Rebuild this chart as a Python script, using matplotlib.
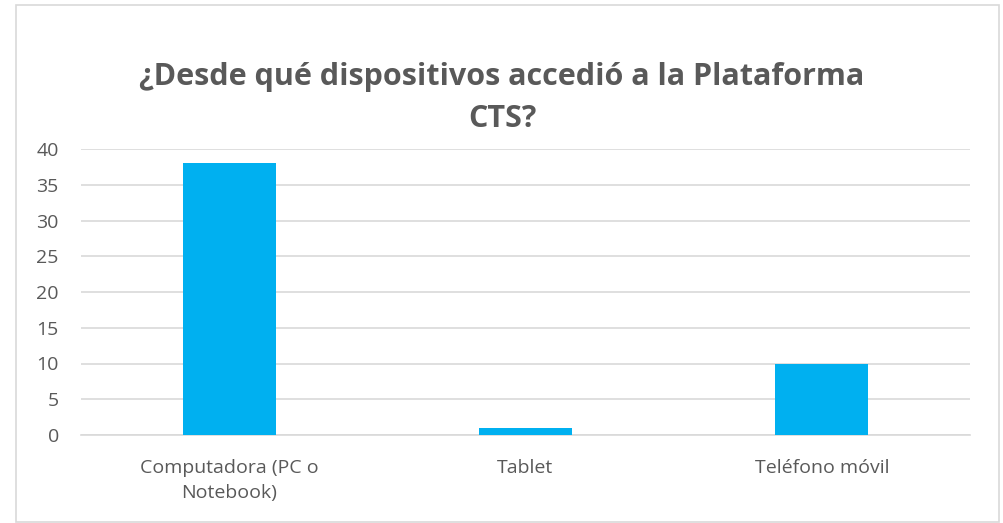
import matplotlib
matplotlib.use("Agg")
import matplotlib.pyplot as plt
from matplotlib.patches import Rectangle

categories = ["Computadora (PC o\nNotebook)", "Tablet", "Teléfono móvil"]
values = [38, 1, 10]
yticks = [0, 5, 10, 15, 20, 25, 30, 35, 40]
title = "¿Desde qué dispositivos accedió a la Plataforma\nCTS?"

plt.rcParams['font.family'] = ['Open Sans', 'DejaVu Sans']
text_color = "#595959"
grid_color = "#D9D9D9"
bar_color = "#00B0F0"

fig = plt.figure(figsize=(10.04, 5.23), dpi=100)
W, H = 1004, 523
ax = fig.add_axes([81 / W, 1 - 435 / H, (970 - 81) / W, (435 - 149) / H])

x = list(range(len(categories)))
ax.bar(x, values, width=0.314, color=bar_color, zorder=3)
ax.set_xlim(-0.5, len(categories) - 0.5)
ax.set_ylim(0, 40)
ax.set_yticks(yticks)
ax.set_xticks(x)
ax.set_xticklabels(categories, fontsize=14, color=text_color, linespacing=1.5)
ax.tick_params(axis='y', labelsize=14, colors=text_color, length=0, pad=16)
ax.tick_params(axis='x', length=0, pad=17)
ax.yaxis.grid(True, color=grid_color, linewidth=1.2, zorder=0)
for s in ['top', 'right', 'left']:
    ax.spines[s].set_visible(False)
ax.spines['bottom'].set_color(grid_color)
ax.spines['bottom'].set_linewidth(1.2)

fig.text(0.5, 1 - 98 / H, title, ha='center', va='center', fontsize=22,
         fontweight='bold', color=text_color, linespacing=1.55)

fig.patches.append(Rectangle((16 / W, 1 / H), (999 - 16) / W, (518 - 1) / H,
                             transform=fig.transFigure, fill=False,
                             edgecolor="#D9D9D9", linewidth=1.2))

fig.savefig("out.png", dpi=100)
